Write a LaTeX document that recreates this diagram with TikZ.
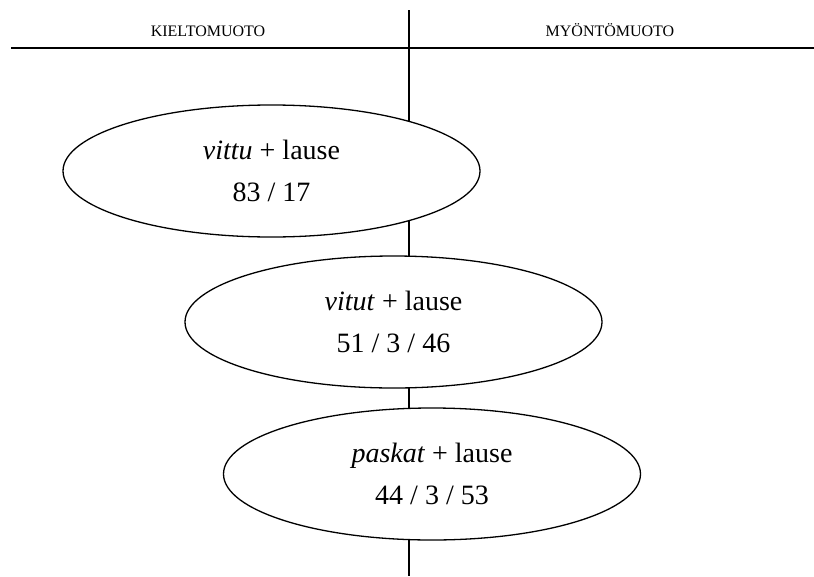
\documentclass[tikz,border=0pt]{standalone}
\usepackage{fontspec}
\setmainfont{Liberation Serif}
\usetikzlibrary{shapes.geometric}
\begin{document}
\begin{tikzpicture}[x=1pt,y=-1pt,
  oval/.style={ellipse, draw, line width=1.3pt, fill=white, minimum width=417pt, minimum height=132pt, inner sep=0pt, align=center, font=\fontsize{28}{42}\selectfont},
  header/.style={font=\fontsize{16}{19}\selectfont, anchor=base},
  axis/.style={line width=2pt}]
\useasboundingbox (0,0) rectangle (814,576);
\coordinate (vtop) at (409,10);
\coordinate (vbot) at (409,576);
\coordinate (hl) at (11,48);
\coordinate (hr) at (814,48);
\draw[axis] (vtop) -- (vbot);
\draw[axis] (hl) -- (hr);
\node[header] (neg) at (208,36) {KIELTOMUOTO};
\node[header] (pos) at (610,36) {MYÖNTÖMUOTO};
\node[oval] (e1) at (271.5,171) {\textit{vittu} + lause\\83 / 17};
\node[oval] (e2) at (393.5,322) {\textit{vitut} + lause\\51 / 3 / 46};
\node[oval] (e3) at (432,474) {\textit{paskat} + lause\\44 / 3 / 53};
\end{tikzpicture}
\end{document}
